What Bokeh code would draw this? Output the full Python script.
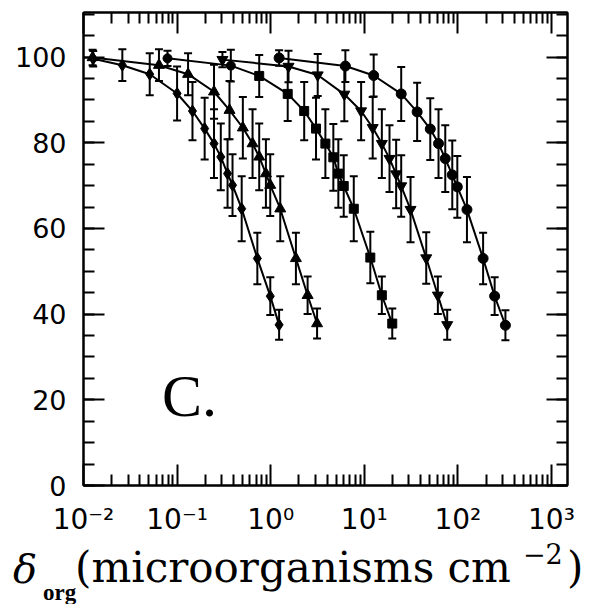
from bokeh.plotting import figure
from bokeh.layouts import column
from bokeh.models import (Range1d, FixedTicker, LogAxis, LinearAxis, Whisker, TeeHead,
                          ColumnDataSource, Label, Div)
from bokeh.embed import file_html
from bokeh.resources import INLINE

# ---------------- data ----------------
x_diamond = [0.0127, 0.026, 0.051, 0.100, 0.146, 0.197, 0.248, 0.293, 0.346, 0.391, 0.49, 0.72, 0.99, 1.23]
y_diamond = [99.6, 98.1, 96.0, 91.5, 87.4, 83.3, 79.8, 76.7, 72.8, 70.1, 64.6, 53.0, 44.2, 37.5]

x_tri_up = [0.0125, 0.064, 0.131, 0.248, 0.363, 0.504, 0.64, 0.754, 0.889, 0.989, 1.265, 1.86, 2.48, 3.13]
y_tri_up = [99.9, 98.1, 96.0, 91.9, 87.6, 83.5, 79.8, 76.7, 72.8, 70.1, 64.6, 53.0, 44.4, 37.8]

x_square = [0.079, 0.375, 0.754, 1.52, 2.28, 3.05, 3.84, 4.67, 5.28, 6.03, 7.72, 11.6, 15.4, 19.9]
y_square = [99.7, 98.0, 95.6, 91.4, 87.4, 83.3, 79.8, 76.6, 72.8, 69.9, 64.6, 53.2, 44.4, 37.8]

x_tri_down = [0.305, 1.55, 3.18, 6.12, 9.25, 12.3, 15.4, 18.6, 21.9, 24.8, 31.2, 45.9, 61.1, 76.9]
y_tri_down = [99.4, 97.8, 95.8, 91.3, 87.4, 83.5, 79.8, 76.3, 72.7, 69.9, 64.4, 53.1, 44.4, 37.5]

x_circle = [1.23, 6.28, 12.6, 24.8, 36.7, 50.7, 62.1, 73.3, 87.1, 98.6, 125, 186, 247, 322]
y_circle = [99.8, 97.9, 95.7, 91.4, 87.2, 83.2, 79.8, 76.3, 72.5, 69.7, 64.4, 53.0, 44.2, 37.4]

err_bar = [1.8, 3.7, 4.9, 6.3, 6.8, 7.2, 8.0, 7.8, 8.0, 7.2, 7.6, 6.0, 4.4, 3.5]

x_major_ticks = [0.01, 0.1, 1, 10, 100, 1000]
x_tick_labels = ["10\u207b\u00b2", "10\u207b\u00b9", "10\u2070", "10\u00b9", "10\u00b2", "10\u00b3"]
y_major_ticks = [0, 20, 40, 60, 80, 100]
y_tick_labels = ["0", "20", "40", "60", "80", "100"]

panel_label = "C."
xlabel_parts = ["\u03b4", "org", "(microorganisms cm", "\u22122", ")"]

# ---------------- main figure geometry ----------------
W = 581
H1 = 538
FL, FR, FT, FB = 83, 14, 12, 53
X_LO, X_HI = 0.01, 1483.0
Y_LO, Y_HI = 0.0, 110.4

p = figure(width=W, height=H1, x_axis_type="log",
           x_range=Range1d(X_LO, X_HI), y_range=Range1d(Y_LO, Y_HI),
           output_backend="svg", toolbar_location=None,
           min_border_left=FL, min_border_right=FR, min_border_top=FT, min_border_bottom=FB)
p.grid.visible = False
p.outline_line_color = "black"
p.outline_line_width = 2
p.background_fill_color = "white"
p.border_fill_color = "white"

bottom_axis = p.below[0]
left_axis = p.left[0]

x_minor = [m * 10.0 ** e for e in range(-2, 3) for m in range(2, 10)]
y_minor = list(range(0, 111, 5))
xt = FixedTicker(ticks=x_major_ticks, minor_ticks=x_minor)
yt = FixedTicker(ticks=y_major_ticks, minor_ticks=y_minor)

top_axis = LogAxis(ticker=xt, major_label_overrides={t: "" for t in x_major_ticks},
                   major_label_text_font_size="1px", major_label_standoff=0)
right_axis = LinearAxis(ticker=yt, major_label_overrides={t: "" for t in y_major_ticks},
                        major_label_text_font_size="1px", major_label_standoff=0)
p.add_layout(top_axis, "above")
p.add_layout(right_axis, "right")

bottom_axis.ticker = xt
left_axis.ticker = yt

for ax in [bottom_axis, top_axis, left_axis, right_axis]:
    ax.major_tick_in = 21
    ax.major_tick_out = 0
    ax.minor_tick_in = 11
    ax.minor_tick_out = 0
    ax.major_tick_line_width = 2
    ax.minor_tick_line_width = 2
    ax.axis_line_width = 2
    ax.major_tick_line_color = "black"
    ax.minor_tick_line_color = "black"
    ax.axis_line_color = "black"

bottom_axis.major_label_overrides = {t: l for t, l in zip(x_major_ticks, x_tick_labels)}
bottom_axis.major_label_text_font = "DejaVu Sans"
bottom_axis.major_label_text_font_size = "28px"
bottom_axis.major_label_text_color = "black"
bottom_axis.major_label_standoff = 17

left_axis.major_label_overrides = {t: l for t, l in zip(y_major_ticks, y_tick_labels)}
left_axis.major_label_text_font = "DejaVu Sans"
left_axis.major_label_text_font_size = "27px"
left_axis.major_label_text_color = "black"
left_axis.major_label_standoff = 17

# ---------------- series ----------------
series = [
    (x_diamond, y_diamond, ["diamond"] * 14, 12),
    (x_tri_up, y_tri_up, ["triangle"] * 14, 11),
    (x_square, y_square, ["circle", "circle"] + ["square"] * 12, 9),
    (x_tri_down, y_tri_down, ["inverted_triangle"] * 14, 11),
    (x_circle, y_circle, ["circle"] * 14, 10),
]

for xs, ys, mk, sz in series:
    src = ColumnDataSource(dict(
        x=xs, y=ys,
        lo=[v - e for v, e in zip(ys, err_bar)],
        hi=[v + e for v, e in zip(ys, err_bar)],
        marker=mk,
    ))
    w = Whisker(source=src, base="x", lower="lo", upper="hi", dimension="height",
                line_width=2, line_color="black",
                upper_head=TeeHead(size=8, line_width=2, line_color="black"),
                lower_head=TeeHead(size=8, line_width=2, line_color="black"))
    p.add_layout(w)
    p.line("x", "y", source=src, line_width=2, line_color="black")
    p.scatter("x", "y", source=src, marker="marker", size=sz,
              fill_color="black", line_color="black")

# panel letter, inside the frame
p.add_layout(Label(x=0.069, y=21.0, text=panel_label, text_font="Liberation Serif",
                   text_font_size="60px", text_color="black",
                   text_baseline="alphabetic", text_align="left"))

# ---------------- x-axis title (HTML strip below the plot) ----------------
H2 = 62
ASC = 0.846  # baseline position inside a 1em line box (DejaVu / Liberation approx.)


def span(text, left, baseline, size, font="DejaVu Serif", extra=""):
    top = baseline - H1 - ASC * size
    return (f'<span style="position:absolute;left:{left}px;top:{top:.1f}px;'
            f'font-family:\'{font}\';font-size:{size}px;line-height:{size}px;'
            f'white-space:pre;color:black;{extra}">{text}</span>')


html = (f'<div style="position:relative;width:{W}px;height:{H2}px;">'
        + span(xlabel_parts[0], 13, 583, 40, extra="font-style:italic;")
        + span(xlabel_parts[1], 43, 600, 23, font="Liberation Serif", extra="font-weight:bold;")
        + span(xlabel_parts[2], 75, 582, 42)
        + span(xlabel_parts[3], 523, 564, 27)
        + span(xlabel_parts[4], 567, 582, 42)
        + '</div>')

label_div = Div(text=html, width=W, height=H2, margin=(0, 0, 0, 0))

layout = column(p, label_div, spacing=0)
open("out.html", "w").write(file_html(layout, INLINE))
